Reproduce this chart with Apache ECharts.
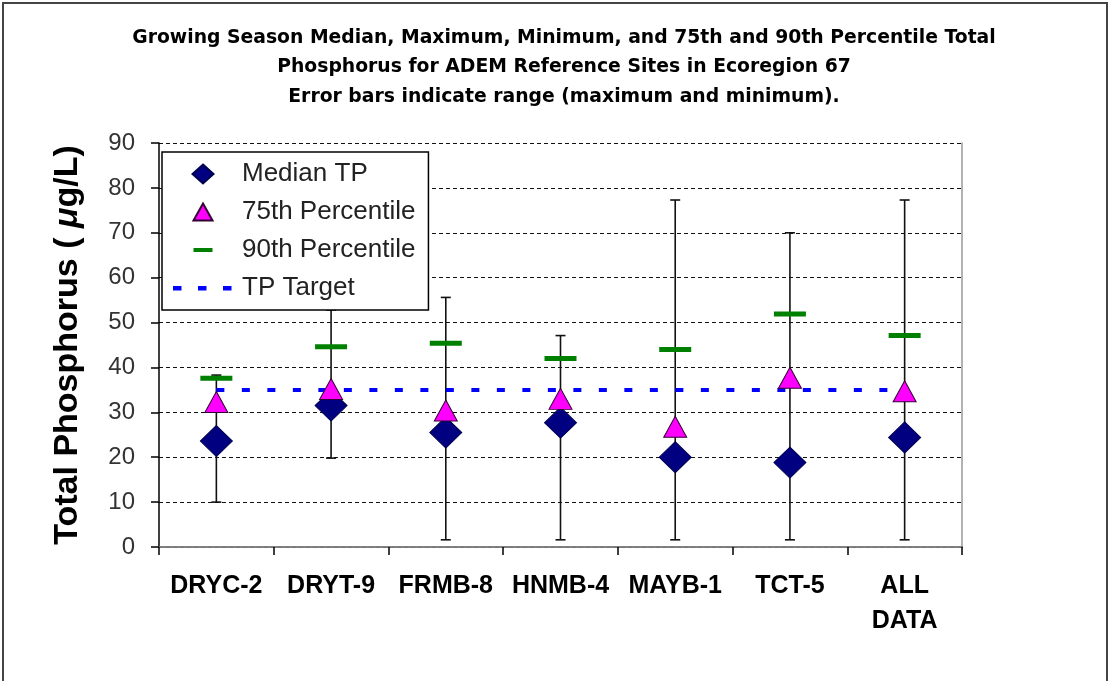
<!DOCTYPE html>
<html>
<head>
<meta charset="utf-8">
<script src="https://cdn.jsdelivr.net/npm/echarts@6/dist/echarts.min.js"></script>
<style>
  html, body { margin: 0; padding: 0; background: #fff; }
  #chart { width: 1111px; height: 681px; }
</style>
</head>
<body>
<div id="chart"></div>
<script>
  // values (ug/L)
  const sites = ['DRYC-2', 'DRYT-9', 'FRMB-8', 'HNMB-4', 'MAYB-1', 'TCT-5', 'ALL\nDATA'];
  const medianTP = [23.6, 31.5, 25.5, 27.7, 20.0, 18.8, 24.4];
  const pct75 = [32.3, 35.2, 30.4, 33.0, 26.8, 37.7, 34.7];
  const pct90 = [37.6, 44.6, 45.4, 42.0, 44.0, 51.9, 47.1];
  const maxTP = [38.3, 52.8, 55.6, 47.1, 77.3, 70.0, 77.3];
  const minTP = [10.0, 19.8, 1.6, 1.6, 1.6, 1.6, 1.6];
  const tpTarget = [35, 35, 35, 35, 35, 35, 35];

  const FONT = '"Liberation Sans", Arial, sans-serif';

  const chart = echarts.init(document.getElementById('chart'));

  // legend icons, the extra moveTo points keep a 60x20 box
  const diamondIcon = 'path://M0,0M60,20M30,0.5L40.5,10L30,19.5L19.5,10Z';
  const triIcon = 'path://M0,0M60,20M30,1.5L39.5,18.5L20.5,18.5Z';
  const dashIcon = 'path://M0,0M60,20M20.5,8h19v4h-19z';
  const lineIcon = 'path://M0,0M60,20M0,8h8.5v4.5h-8.5zM25,8h8.5v4.5h-8.5zM50,8h8.5v4.5h-8.5z';

  const rangeData = sites.map((s, i) => [i, minTP[i], maxTP[i]]);

  const option = {
    backgroundColor: '#fff',
    animation: false,
    title: {
      text: 'Growing Season Median, Maximum, Minimum, and 75th and 90th Percentile Total\n' +
        'Phosphorus for ADEM Reference Sites in Ecoregion 67\n' +
        'Error bars indicate range (maximum and minimum).',
      left: 564,
      textAlign: 'center',
      top: 23,
      padding: 0,
      textStyle: {
        fontFamily: '"DejaVu Sans", sans-serif',
        fontSize: 18.8,
        fontWeight: 'bold',
        color: '#000',
        lineHeight: 29.5
      }
    },
    graphic: [{
      type: 'rect',
      shape: { x: 3, y: 3, width: 1104, height: 720 },
      style: { fill: null, stroke: '#444', lineWidth: 2 },
      silent: true
    }],
    legend: {
      orient: 'vertical',
      left: 162,
      top: 152,
      padding: [9, 13, 9, 10],
      itemWidth: 60,
      itemHeight: 20,
      itemGap: 12,
      borderColor: '#000',
      borderWidth: 1.5,
      backgroundColor: '#fff',
      selectedMode: false,
      textStyle: {
        fontFamily: FONT,
        fontSize: 26,
        color: '#222',
        padding: [0, 0, 0, 4]
      },
      data: [
        { name: 'Median TP', icon: diamondIcon },
        { name: '75th Percentile', icon: triIcon },
        { name: '90th Percentile', icon: dashIcon },
        { name: 'TP Target', icon: lineIcon, itemStyle: { color: '#0000ff' } }
      ]
    },
    grid: {
      left: 159,
      right: 149,
      top: 143,
      bottom: 134
    },
    xAxis: [{
      type: 'category',
      data: sites,
      boundaryGap: true,
      axisLine: { lineStyle: { color: '#000', width: 1.5 } },
      axisTick: { show: true, length: 8, lineStyle: { color: '#000', width: 1.5 } },
      axisLabel: {
        interval: 0,
        margin: 22,
        fontFamily: FONT,
        fontSize: 25,
        fontWeight: 'bold',
        color: '#000',
        lineHeight: 35
      },
      splitLine: { show: false }
    }, {
      type: 'category',
      position: 'top',
      data: sites,
      axisLine: { lineStyle: { color: '#999', width: 1.5 } },
      axisTick: { show: false },
      axisLabel: { show: false }
    }],
    yAxis: [{
      type: 'value',
      min: 0,
      max: 90,
      interval: 10,
      name: '{a|Total Phosphorus ( }{b|\u03bc}{a|g/L)}',
      nameLocation: 'middle',
      nameGap: 74,
      nameTextStyle: {
        rich: {
          a: { fontFamily: FONT, fontSize: 34, fontWeight: 'bold', color: '#000' },
          b: { fontFamily: FONT, fontSize: 34, fontWeight: 'bold', fontStyle: 'italic', color: '#000' }
        }
      },
      axisLine: { show: true, lineStyle: { color: '#000', width: 1.5 } },
      axisTick: { show: true, length: 8, lineStyle: { color: '#000', width: 1.5 } },
      axisLabel: {
        margin: 24,
        fontFamily: FONT,
        fontSize: 24,
        color: '#333'
      },
      splitLine: {
        show: true,
        lineStyle: { color: '#111', width: 1.2, type: [4, 3] }
      }
    }, {
      type: 'value',
      position: 'right',
      min: 0,
      max: 90,
      interval: 10,
      axisLine: { show: true, lineStyle: { color: '#999', width: 1.5 } },
      axisTick: { show: false },
      axisLabel: { show: false },
      splitLine: { show: false }
    }],
    series: [
      {
        name: 'Range',
        type: 'custom',
        z: 2,
        encode: { x: 0, y: [1, 2] },
        data: rangeData,
        renderItem: function (params, api) {
          const lo = api.coord([api.value(0), api.value(1)]);
          const hi = api.coord([api.value(0), api.value(2)]);
          const w = 5;
          const st = { stroke: '#111', lineWidth: 1.6 };
          return {
            type: 'group',
            children: [
              { type: 'line', shape: { x1: lo[0], y1: lo[1], x2: hi[0], y2: hi[1] }, style: st },
              { type: 'line', shape: { x1: lo[0] - w, y1: lo[1], x2: lo[0] + w, y2: lo[1] }, style: st },
              { type: 'line', shape: { x1: hi[0] - w, y1: hi[1], x2: hi[0] + w, y2: hi[1] }, style: st }
            ]
          };
        }
      },
      {
        name: 'TP Target',
        type: 'line',
        z: 3,
        data: tpTarget,
        symbol: 'none',
        lineStyle: { color: '#0000ff', width: 4, type: [8, 17.5] },
        itemStyle: { color: '#0000ff' }
      },
      {
        name: '90th Percentile',
        type: 'scatter',
        z: 4,
        data: pct90,
        symbol: 'rect',
        symbolSize: [32, 5],
        itemStyle: { color: '#008000', opacity: 1 }
      },
      {
        name: 'Median TP',
        type: 'scatter',
        z: 5,
        data: medianTP,
        symbol: 'diamond',
        symbolSize: [32, 31],
        itemStyle: { color: '#000080', borderColor: '#000050', borderWidth: 1, opacity: 1 }
      },
      {
        name: '75th Percentile',
        type: 'scatter',
        z: 6,
        data: pct75,
        symbol: 'triangle',
        symbolSize: [23, 21],
        itemStyle: { color: '#ff00ff', borderColor: '#330033', borderWidth: 1, opacity: 1 }
      }
    ]
  };

  chart.setOption(option);
</script>
</body>
</html>
